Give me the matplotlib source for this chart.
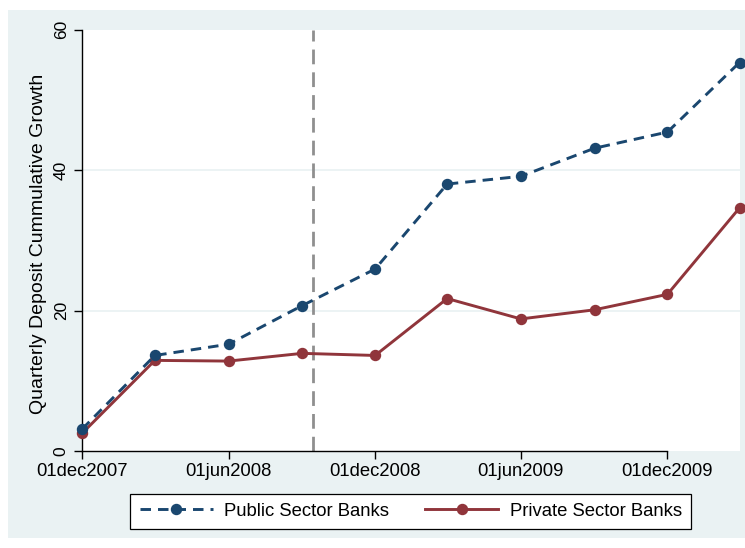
import matplotlib
matplotlib.use("Agg")
import matplotlib.pyplot as plt
import matplotlib.patches as mpatches
import matplotlib.dates as mdates
import pandas as pd

plt.rcParams['font.family'] = ['Liberation Sans', 'DejaVu Sans']

# quarterly observations
quarters = ['2007-12-01', '2008-03-01', '2008-06-01', '2008-09-01', '2008-12-01',
            '2009-03-01', '2009-06-01', '2009-09-01', '2009-12-01', '2010-03-01']
public_growth = [3.1, 13.6, 15.2, 20.7, 25.9, 38.0, 39.1, 43.1, 45.4, 55.3]
private_growth = [2.5, 12.9, 12.8, 13.9, 13.6, 21.7, 18.8, 20.1, 22.3, 34.6]

tick_dates = ['2007-12-01', '2008-06-01', '2008-12-01', '2009-06-01', '2009-12-01']
tick_labels = ['01dec2007', '01jun2008', '01dec2008', '01jun2009', '01dec2009']
event_date = '2008-09-15'
y_ticks = [0, 20, 40, 60]

navy = '#1a476f'
maroon = '#90353b'
bg = '#eaf2f3'

x = mdates.date2num(pd.to_datetime(quarters).to_pydatetime())
xt = mdates.date2num(pd.to_datetime(tick_dates).to_pydatetime())
xe = mdates.date2num(pd.Timestamp(event_date).to_pydatetime())

fig = plt.figure(figsize=(7.45, 5.48), dpi=100)
fig.patch.set_facecolor('white')
# shaded graph region behind the plot
fig.patches.append(mpatches.Rectangle((8 / 745, 1 - 538 / 548), 1 - 8 / 745, (538 - 9.5) / 548,
                                      transform=fig.transFigure, facecolor=bg,
                                      edgecolor='none', zorder=-10))

ax = fig.add_axes([82 / 745, 1 - 451 / 548, 657.5 / 745, 421.5 / 548])
ax.set_facecolor('white')

for yv in y_ticks[1:-1]:
    ax.axhline(yv, color=bg, lw=1.3, zorder=1)

ax.axvline(xe, color='#8f8f8f', lw=2, dashes=(5.3, 2.9), zorder=2)

ax.plot(x, public_growth, color=navy, lw=2.1, dashes=(3.6, 2.4), marker='o', ms=7.2,
        label='Public Sector Banks', clip_on=False, zorder=4)
ax.plot(x, private_growth, color=maroon, lw=2.1, marker='o', ms=7.2,
        label='Private Sector Banks', clip_on=False, zorder=3)

ax.set_xlim(x[0], x[-1])
ax.set_ylim(0, 60)
ax.set_xticks(xt)
ax.set_xticklabels(tick_labels, fontsize=13.3)
ax.set_yticks(y_ticks)
ax.set_yticklabels([str(v) for v in y_ticks], fontsize=12.5, rotation=90, va='center')
ax.tick_params(axis='both', direction='out', length=5.5, width=1, color='black')
ax.tick_params(axis='x', pad=3)
ax.tick_params(axis='y', pad=4)

for side in ['top', 'right']:
    ax.spines[side].set_visible(False)
ax.spines['bottom'].set_bounds(x[0], xt[-1])
ax.spines['left'].set_linewidth(1)
ax.spines['bottom'].set_linewidth(1)

ax.set_ylabel('Quarterly Deposit Cummulative Growth', fontsize=14)
ax.yaxis.set_label_coords(-0.053, 0.492)

leg = ax.legend(loc='center', bbox_to_anchor=(410.6 / 745, 1 - 511.3 / 548),
                bbox_transform=fig.transFigure, ncol=2, fontsize=13.3,
                frameon=True, fancybox=False, edgecolor='black', facecolor='white',
                framealpha=1, handlelength=4.0, handletextpad=0.6,
                columnspacing=1.9, borderpad=0.5, borderaxespad=0, numpoints=1)
leg.get_frame().set_linewidth(0.9)

fig.savefig('out.png', dpi=100, facecolor=fig.get_facecolor())
